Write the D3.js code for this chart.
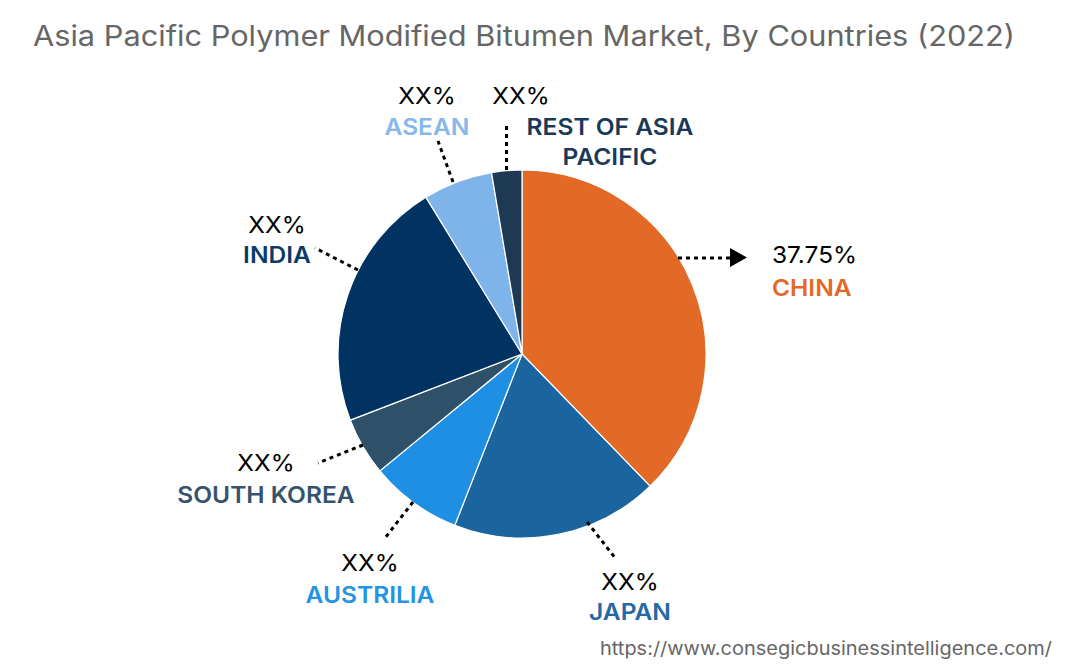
<!DOCTYPE html>
<html><head><meta charset="utf-8">
<script src="https://cdn.jsdelivr.net/npm/d3@7"></script>
<style>
html,body{margin:0;padding:0;background:#fff;}
svg{display:block;font-family:Inter,"Noto Sans",sans-serif;}
</style></head>
<body>
<svg id="chart" width="1069" height="672"></svg>
<script>
const categories = ["CHINA","JAPAN","AUSTRILIA","SOUTH KOREA","INDIA","ASEAN","REST OF ASIA PACIFIC"];
const values = [37.75, 18.2, 8.1, 5.1, 22.1, 6.1, 2.65];
const valueLabels = ["37.75%","XX%","XX%","XX%","XX%","XX%","XX%"];
const sliceColors = ["#E36A26","#1A64A0","#1E8FE3","#2F5069","#003362","#7EB4EA","#1D3A52"];
const labelColors = ["#E36A26","#2468A4","#2393E6","#34536E","#0B3A6B","#86B8EA","#183A58"];
const title = "Asia Pacific Polymer Modified Bitumen Market, By Countries (2022)";
const source = "https://www.consegicbusinessintelligence.com/";

// annotation layout (label anchor positions and leader lines)
const layout = [
  {anchor:"start", x:772, pct:263, name:[296], line:[[678,258],[731,258]], arrow:true},
  {anchor:"middle", x:630, pct:590, name:[620], line:[[587,522],[616,559]]},
  {anchor:"middle", x:370, pct:571, name:[603], line:[[413,502],[385,538]]},
  {anchor:"middle", x:266, pct:471, name:[503], line:[[363,445],[318,463]]},
  {anchor:"middle", x:277, pct:233, name:[263], line:[[358,270],[315,248]]},
  {anchor:"middle", x:427, pct:104, name:[135], line:[[453,182],[438,141]]},
  {anchor:"middle", x:521, pct:104, name:[135,165], nameX:610, lines:["REST OF ASIA","PACIFIC"], line:[[506.5,170],[506.5,122]]}
];

const svg = d3.select("#chart");
const cx = 522, cy = 354, R = 184;

function fit(sel, w){ // stretch text to match reference width
  const n = sel.node(); const l = n.getComputedTextLength();
  sel.attr("textLength", w).attr("lengthAdjust","spacingAndGlyphs");
}

const t = svg.append("text").attr("x",33).attr("y",46)
  .attr("fill","#666").attr("font-size",28).attr("font-weight",400)
  .text(title);
fit(t, 982);

const pie = d3.pie().sort(null).value(d=>d)(values);
const arc = d3.arc().innerRadius(0).outerRadius(R);
const g = svg.append("g").attr("transform",`translate(${cx},${cy})`);
g.selectAll("path").data(pie).join("path")
  .attr("d",arc).attr("fill",(d,i)=>sliceColors[i])
  .attr("stroke","#fff").attr("stroke-width",1.2);

const stretch = 1.09;
layout.forEach((L,i)=>{
  svg.append("line")
    .attr("x1",L.line[0][0]).attr("y1",L.line[0][1])
    .attr("x2",L.line[1][0]).attr("y2",L.line[1][1])
    .attr("stroke","#000").attr("stroke-width",3)
    .attr("stroke-dasharray","4 4");
  if(L.arrow){
    svg.append("path").attr("d","M730,248 L747,257.5 L730,267 Z").attr("fill","#000");
  }
  const p = svg.append("text").attr("x",L.x).attr("y",L.pct)
    .attr("text-anchor",L.anchor).attr("font-size",23.5).attr("fill","#000")
    .text(valueLabels[i]);
  fit(p, p.node().getComputedTextLength()*1.04);
  const names = L.lines || [categories[i]];
  names.forEach((n,j)=>{
    const s = svg.append("text").attr("x",L.nameX || L.x).attr("y",L.name[j])
      .attr("text-anchor",L.anchor).attr("font-size",22.5).attr("font-weight",600)
      .attr("fill",labelColors[i]).text(n);
    fit(s, s.node().getComputedTextLength()*stretch);
  });
});

const f = svg.append("text").attr("x",600).attr("y",655)
  .attr("fill","#666").attr("font-size",18.5).text(source);
fit(f, 452);
</script>
</body></html>
